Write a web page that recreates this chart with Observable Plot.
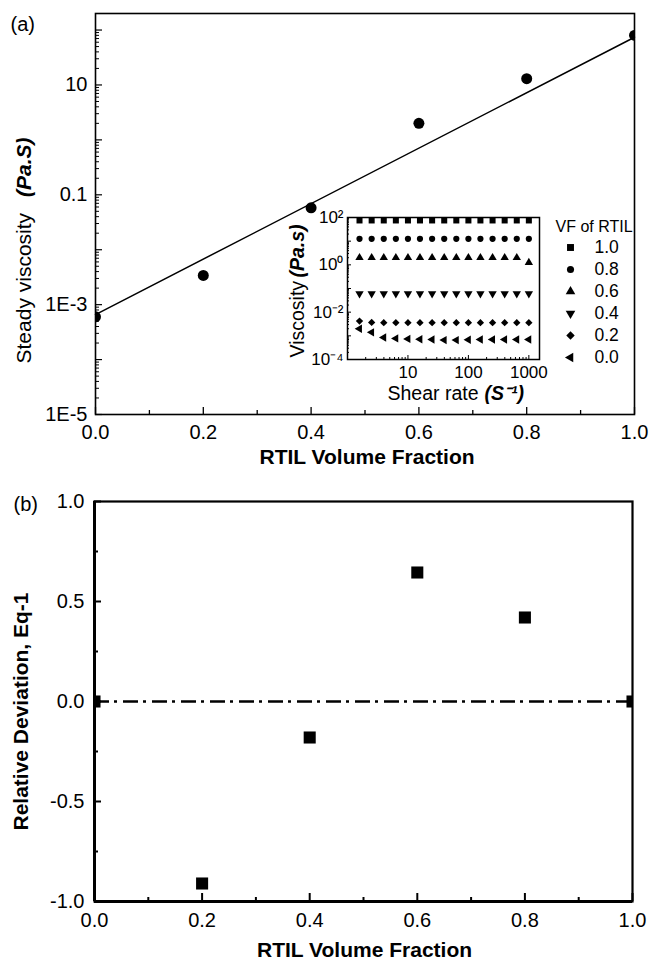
<!DOCTYPE html>
<html><head><meta charset="utf-8">
<script src="https://cdn.jsdelivr.net/npm/d3@7"></script>
<script src="https://cdn.jsdelivr.net/npm/@observablehq/plot@0.6"></script>
<style>
body{margin:0;background:#fff}
#wrap{position:relative;width:650px;height:960px;background:#fff}
#wrap svg{position:absolute;overflow:visible}
</style>
</head><body><div id="wrap"></div>
<script>
// ---------- data ----------
const volFraction = [0, 0.2, 0.4, 0.6, 0.8, 1.0];
const steadyViscosity = [6.0e-4, 3.4e-3, 0.058, 2.0, 13, 80];
const fitFraction = [0, 1];
const fitViscosity = [6.6e-4, 74];
const relDeviation = [0, -0.91, -0.18, 0.645, 0.42, 0];
const zeroLine = [0];

const shearRate = [1.58, 2.51, 3.98, 6.31, 10, 15.8, 25.1, 39.8, 63.1, 100, 158, 251, 398, 631, 1000];
const visc10 = [75, 75, 75, 75, 75, 75, 75, 75, 75, 75, 75, 75, 75, 75, 75];
const visc08 = [12.5, 12.5, 12.5, 12.5, 12.5, 12.5, 12.5, 12.5, 12.5, 12.5, 12.5, 12.5, 12.5, 12.5, 12.5];
const visc06 = [2.0, 2.0, 2.0, 2.0, 2.0, 2.0, 2.0, 2.0, 2.0, 2.0, 2.0, 2.0, 2.0, 2.0, 1.25];
const visc04 = [0.06, 0.06, 0.06, 0.06, 0.06, 0.06, 0.06, 0.06, 0.06, 0.06, 0.06, 0.06, 0.06, 0.06, 0.06];
const visc02 = [0.0042, 0.0037, 0.0036, 0.0036, 0.0036, 0.0036, 0.0036, 0.0036, 0.0036, 0.0036, 0.0036, 0.0036, 0.0036, 0.0036, 0.0036];
const visc00 = [0.0020, 0.0014, 0.00085, 0.00078, 0.00074, 0.00072, 0.00070, 0.00066, 0.00066, 0.00068, 0.00070, 0.00070, 0.00070, 0.00070, 0.00070];
const vfLabels = ["1.0", "0.8", "0.6", "0.4", "0.2", "0.0"];

const xTickValues = [0, 0.2, 0.4, 0.6, 0.8, 1.0];
const xTickLabels = ["0.0", "0.2", "0.4", "0.6", "0.8", "1.0"];
const xMinorValues = [0.1, 0.3, 0.5, 0.7, 0.9];
const yTickValuesA = [1e-5, 1e-3, 0.1, 10];
const yTickLabelsA = ["1E-5", "1E-3", "0.1", "10"];
const yTickValuesB = [-1, -0.5, 0, 0.5, 1];
const yTickLabelsB = ["-1.0", "-0.5", "0.0", "0.5", "1.0"];
const yMinorB = [-0.75, -0.25, 0.25, 0.75];
const insetXTickValues = [10, 100, 1000];
const insetXTickLabels = ["10", "100", "1000"];
const insetYTickValues = [1e-4, 1e-2, 1, 100];
const insetYTickLabels = ["10\u207B\u2074", "10\u207B\u00B2", "10\u2070", "10\u00B2"];

// ---------- helpers ----------
function logTicks(lo, hi) {
  const major = [], minor = [];
  for (let e = Math.floor(Math.log10(lo)); e <= Math.ceil(Math.log10(hi)); e++) {
    for (let m = 1; m < 10; m++) {
      const v = m * Math.pow(10, e);
      if (v < lo * 0.999 || v > hi * 1.001) continue;
      (m === 1 ? major : minor).push(v);
    }
  }
  return {major, minor};
}
const sqrt3 = Math.sqrt(3);
const triangleDown = {draw(ctx, size) {
  const y = -Math.sqrt(size / (sqrt3 * 3));
  ctx.moveTo(0, -y * 2); ctx.lineTo(-sqrt3 * y, y); ctx.lineTo(sqrt3 * y, y); ctx.closePath();
}};
const triangleLeft = {draw(ctx, size) {
  const y = -Math.sqrt(size / (sqrt3 * 3));
  ctx.moveTo(y * 2, 0); ctx.lineTo(-y, -sqrt3 * y); ctx.lineTo(-y, sqrt3 * y); ctx.closePath();
}};

const FONT = "'Liberation Sans', Arial, Helvetica, sans-serif";
const wrap = document.getElementById("wrap");
function place(svg, left, top) {
  svg.style.left = left + "px"; svg.style.top = top + "px";
  wrap.appendChild(svg);
}
const MID = {lineAnchor: "middle"};

// ---------- panel (a) ----------
const W = 650, HA = 480;
const mA = {left: 95, right: 16, top: 13, bottom: 66};
const pwA = W - mA.left - mA.right, phA = HA - mA.top - mA.bottom;
const yDomA = [1e-5, 200];
const ltA = logTicks(yDomA[0], yDomA[1]);
const rowsA = volFraction.map((v, i) => ({vf: v, visc: steadyViscosity[i]}));
const fitRows = fitFraction.map((v, i) => ({vf: v, visc: fitViscosity[i]}));

const plotA = Plot.plot({
  width: W, height: HA,
  marginLeft: mA.left, marginRight: mA.right, marginTop: mA.top, marginBottom: mA.bottom,
  style: {fontFamily: FONT, fontSize: "20px", background: "transparent", color: "black"},
  x: {domain: [0, 1], axis: null},
  y: {type: "log", domain: yDomA, axis: null},
  marks: [
    Plot.frame({stroke: "black", strokeWidth: 1.6}),
    Plot.tickX(xTickValues, {x: d => d, insetTop: phA - 7, stroke: "black", strokeWidth: 1.3}),
    Plot.tickX(xMinorValues, {x: d => d, insetTop: phA - 4, stroke: "black", strokeWidth: 1.3}),
    Plot.tickY(ltA.major, {y: d => d, insetRight: pwA - 7, stroke: "black", strokeWidth: 1.2}),
    Plot.tickY(ltA.minor, {y: d => d, insetRight: pwA - 4, stroke: "black", strokeWidth: 1}),
    Plot.text(xTickLabels, {...MID, x: (d, i) => xTickValues[i], text: d => d, frameAnchor: "bottom", textAnchor: "middle", dy: 18, fontSize: 20}),
    Plot.text(yTickLabelsA, {...MID, y: (d, i) => yTickValuesA[i], text: d => d, frameAnchor: "left", textAnchor: "end", dx: -8, fontSize: 20}),
    Plot.line(fitRows, {x: "vf", y: "visc", stroke: "black", strokeWidth: 1.5}),
    Plot.dot(rowsA, {x: "vf", y: "visc", r: 5.5, fill: "black", clip: true}),
    Plot.text(["RTIL Volume Fraction"], {...MID, text: d => d, frameAnchor: "bottom", textAnchor: "middle", dx: 2, dy: 43, fontSize: 21, fontWeight: "bold"}),
    Plot.text(["Steady viscosity"], {...MID, text: d => d, frameAnchor: "left", rotate: -90, textAnchor: "start", dx: 24 - mA.left, dy: 363 - (mA.top + phA / 2), fontSize: 21}),
    Plot.text(["(Pa.S)"], {...MID, text: d => d, frameAnchor: "left", rotate: -90, textAnchor: "end", dx: 24 - mA.left, dy: 137 - (mA.top + phA / 2), fontSize: 21, fontWeight: "bold", fontStyle: "italic"}),
    Plot.text(["(a)"], {...MID, text: d => d, frameAnchor: "top-left", textAnchor: "start", dx: 10 - mA.left, dy: 11, fontSize: 20})
  ]
});
place(plotA, 0, 0);

// ---------- inset ----------
const IL = 270, IT = 200, IW = 290, IH = 210;
const mI = {left: 347 - IL, right: IL + IW - 539, top: 217 - IT, bottom: IT + IH - 359};
const pwI = IW - mI.left - mI.right, phI = IH - mI.top - mI.bottom;
const xDomI = [1, 1500], yDomI = [1e-4, 100];
const ltIx = logTicks(xDomI[0], xDomI[1]);
const ltIy = logTicks(yDomI[0], yDomI[1]);
const insetSeries = [
  {vals: visc10, symbol: "square", r: 3.4},
  {vals: visc08, symbol: "circle", r: 3.1},
  {vals: visc06, symbol: "triangle", r: 3.1},
  {vals: visc04, symbol: triangleDown, r: 3.1},
  {vals: visc02, symbol: "diamond2", r: 3.3},
  {vals: visc00, symbol: triangleLeft, r: 3.1}
];
const insetMarks = insetSeries.map(s =>
  Plot.dot(shearRate.map((x, i) => ({x, v: s.vals[i]})), {x: "x", y: "v", symbol: s.symbol, r: s.r, fill: "black", stroke: "none"})
);
const midYI = mI.top + phI / 2, midXI = mI.left + pwI / 2;
const plotI = Plot.plot({
  width: IW, height: IH,
  marginLeft: mI.left, marginRight: mI.right, marginTop: mI.top, marginBottom: mI.bottom,
  style: {fontFamily: FONT, fontSize: "17px", background: "transparent", color: "black"},
  x: {type: "log", domain: xDomI, axis: null},
  y: {type: "log", domain: yDomI, axis: null},
  marks: [
    Plot.frame({fill: "white", stroke: "none"}),
    Plot.frame({stroke: "black", strokeWidth: 1.5}),
    Plot.tickX(ltIx.major, {x: d => d, insetTop: phI - 4, stroke: "black"}),
    Plot.tickX(ltIx.minor, {x: d => d, insetTop: phI - 2, stroke: "black"}),
    Plot.tickY(ltIy.major, {y: d => d, insetRight: pwI - 4, stroke: "black"}),
    Plot.tickY(ltIy.minor, {y: d => d, insetRight: pwI - 2, stroke: "black"}),
    ...insetMarks,
    Plot.text(insetXTickLabels, {...MID, x: (d, i) => insetXTickValues[i], text: d => d, frameAnchor: "bottom", textAnchor: "middle", dy: 13, fontSize: 17}),
    Plot.text(insetYTickLabels, {...MID, y: (d, i) => insetYTickValues[i], text: d => d, frameAnchor: "left", textAnchor: "end", dx: -4, fontSize: 17}),
    Plot.text(["Shear rate"], {...MID, text: d => d, frameAnchor: "bottom", textAnchor: "end", dx: 478 - (IL + midXI), dy: 34, fontSize: 19.5}),
    Plot.text(["(S\u207B\u00B9)"], {...MID, text: d => d, frameAnchor: "bottom", textAnchor: "start", dx: 484 - (IL + midXI), dy: 34, fontSize: 19.5, fontWeight: "bold", fontStyle: "italic"}),
    Plot.text(["Viscosity"], {...MID, text: d => d, frameAnchor: "left", rotate: -90, textAnchor: "start", dx: 297 - 347, dy: 357 - (IT + midYI), fontSize: 19.5}),
    Plot.text(["(Pa.s)"], {...MID, text: d => d, frameAnchor: "left", rotate: -90, textAnchor: "start", dx: 297 - 347, dy: 277 - (IT + midYI), fontSize: 19.5, fontWeight: "bold", fontStyle: "italic"})
  ]
});
place(plotI, IL, IT);

// ---------- legend of inset ----------
const LL = 548, LT = 205, LW = 102, LH = 165;
const legendMarks = insetSeries.map((s, i) =>
  Plot.dot([vfLabels[i]], {y: d => d, frameAnchor: "left", dx: 22, symbol: s.symbol, r: s.r * 1.15, fill: "black", stroke: "none"})
);
const plotL = Plot.plot({
  width: LW, height: LH,
  marginLeft: 0, marginRight: 0, marginTop: 246 - LT, marginBottom: LT + LH - 358,
  style: {fontFamily: FONT, fontSize: "17px", background: "transparent", color: "black"},
  y: {type: "point", domain: vfLabels, padding: 0, axis: null},
  marks: [
    ...legendMarks,
    Plot.text(vfLabels, {...MID, y: d => d, text: d => d, frameAnchor: "left", textAnchor: "start", dx: 46, fontSize: 17.5}),
    Plot.text(["VF of RTIL"], {...MID, text: d => d, frameAnchor: "top-left", textAnchor: "start", dx: 7, dy: -20, fontSize: 16})
  ]
});
place(plotL, LL, LT);

// ---------- panel (b) ----------
const HB = 480, TB = 480;
const mB = {left: 94, right: 18, top: 21, bottom: 59};
const pwB = W - mB.left - mB.right, phB = HB - mB.top - mB.bottom;
const rowsB = volFraction.map((v, i) => ({vf: v, dev: relDeviation[i]}));
const plotB = Plot.plot({
  width: W, height: HB,
  marginLeft: mB.left, marginRight: mB.right, marginTop: mB.top, marginBottom: mB.bottom,
  style: {fontFamily: FONT, fontSize: "20px", background: "transparent", color: "black"},
  x: {domain: [0, 1], axis: null},
  y: {domain: [-1, 1], axis: null},
  marks: [
    Plot.frame({stroke: "black", strokeWidth: 2.2}),
    Plot.ruleX([0], {x: d => d, stroke: "black", strokeWidth: 3}),
    Plot.ruleY([-1], {y: d => d, stroke: "black", strokeWidth: 3}),
    Plot.tickX(xTickValues, {x: d => d, insetTop: phB - 8, stroke: "black", strokeWidth: 2}),
    Plot.tickX(xMinorValues, {x: d => d, insetTop: phB - 4, stroke: "black", strokeWidth: 2}),
    Plot.tickY(yTickValuesB, {y: d => d, insetRight: pwB - 7, stroke: "black", strokeWidth: 2}),
    Plot.tickY(yMinorB, {y: d => d, insetRight: pwB - 4, stroke: "black", strokeWidth: 2}),
    Plot.ruleY(zeroLine, {y: d => d, stroke: "black", strokeWidth: 2.5, strokeDasharray: "15,5,3,6"}),
    Plot.dot(rowsB, {x: "vf", y: "dev", symbol: "square", r: 6.8, fill: "black", stroke: "none", clip: true}),
    Plot.text(xTickLabels, {...MID, x: (d, i) => xTickValues[i], text: d => d, frameAnchor: "bottom", textAnchor: "middle", dy: 19, fontSize: 20}),
    Plot.text(yTickLabelsB, {...MID, y: (d, i) => yTickValuesB[i], text: d => d, frameAnchor: "left", textAnchor: "end", dx: -10, fontSize: 20}),
    Plot.text(["RTIL Volume Fraction"], {...MID, text: d => d, frameAnchor: "bottom", textAnchor: "middle", dx: 1, dy: 49, fontSize: 21, fontWeight: "bold"}),
    Plot.text(["Relative Deviation, Eq-1"], {...MID, text: d => d, frameAnchor: "left", textAnchor: "middle", rotate: -90, dx: 21 - mB.left, dy: 10, fontSize: 21, fontWeight: "bold"}),
    Plot.text(["(b)"], {...MID, text: d => d, frameAnchor: "top-left", textAnchor: "start", dx: 13 - mB.left, dy: 3, fontSize: 20})
  ]
});
place(plotB, 0, TB);
</script>
</body></html>
